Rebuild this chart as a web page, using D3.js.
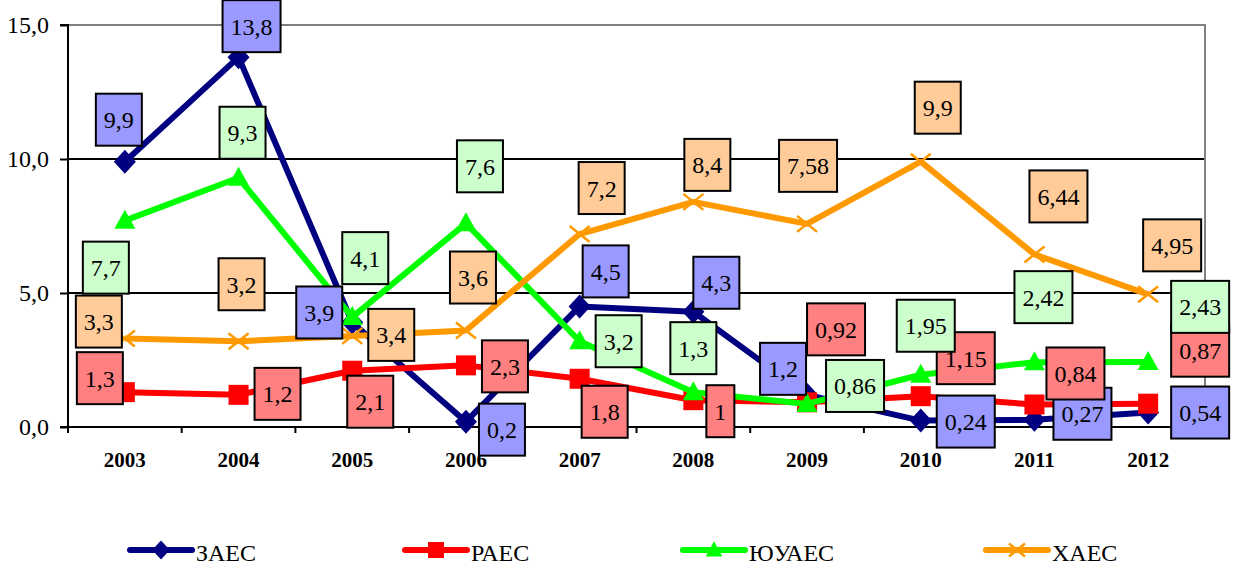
<!DOCTYPE html>
<html><head><meta charset="utf-8">
<script src="https://cdn.jsdelivr.net/npm/d3@7"></script>
<style>body{margin:0;background:#fff}svg{display:block}</style>
</head><body>
<svg id="c" width="1233" height="567"></svg>
<script>
const years = ["2003","2004","2005","2006","2007","2008","2009","2010","2011","2012"];
const seriesNames = ["ЗАЕС","РАЕС","ЮУАЕС","ХАЕС"];
const zaes  = [9.9, 13.8, 3.9, 0.2, 4.5, 4.3, 1.2, 0.24, 0.27, 0.54];
const raes  = [1.3, 1.2, 2.1, 2.3, 1.8, 1, 0.92, 1.15, 0.84, 0.87];
const yuaes = [7.7, 9.3, 4.1, 7.6, 3.2, 1.3, 0.86, 1.95, 2.42, 2.43];
const haes  = [3.3, 3.2, 3.4, 3.6, 7.2, 8.4, 7.58, 9.9, 6.44, 4.95];
const yTicks = [0, 5, 10, 15];

// label offsets (px) relative to their point
const offZ = [[-6,-42],[13,-31],[-33,-10],[36,8],[26,-35],[23,-29],[-24,-26],[45,1],[48,-6],[52,0]];
const offR = [[-25,-14],[39,-1],[18,31],[39,1],[25,33],[27,11],[29,-73],[45,-38],[41,-31],[52,-53]];
const offY = [[-19,47],[4,-45],[13,-59],[14,-57],[39,0],[0,-44],[48,-18],[5,-49],[9,-65],[52,-55]];
const offH = [[-26,-17],[3,-57],[39,-1],[7,-53],[22,-46],[14,-37],[1,-58],[17,-54],[24,-58],[24,-49]];

const series = [
  {name: seriesNames[0], values: zaes,  color:"#000080", fill:"#9999FF", marker:"diamond", off: offZ},
  {name: seriesNames[1], values: raes,  color:"#FF0000", fill:"#FF8080", marker:"square", off: offR},
  {name: seriesNames[2], values: yuaes, color:"#00FF00", fill:"#CCFFCC", marker:"triangle", off: offY},
  {name: seriesNames[3], values: haes,  color:"#FF9900", fill:"#FFCC99", marker:"x", off: offH}
];

const FONT = "Liberation Serif";
const L = 68, R = 1205, T = 25, B = 427;
const svg = d3.select("#c").style("font-family", FONT);
const x = d3.scaleBand().domain(years).range([L, R]);
const y = d3.scaleLinear().domain([0, 15]).range([B, T]);
const cx = d => x(d) + x.bandwidth()/2;

// gridlines
svg.append("g").selectAll("line").data(yTicks.filter(t => t > 0 && t < 15)).join("line")
  .attr("x1", L).attr("x2", R).attr("y1", d => y(d)).attr("y2", d => y(d))
  .attr("stroke", "#000").attr("stroke-width", 2);
// border top/right gray
svg.append("path").attr("d", `M${L},${y(15)}H${R}V${B}`).attr("fill","none").attr("stroke","#808080").attr("stroke-width",2);

// Y axis
const yAxis = d3.axisLeft(y).tickValues(yTicks).tickSize(8).tickPadding(11)
  .tickFormat(d => d3.format(".1f")(d).replace(".", ","));
const gy = svg.append("g").attr("transform", `translate(${L},0)`).call(yAxis);
gy.attr("font-family", null).attr("font-size", null);
gy.select(".domain").attr("stroke","#000").attr("stroke-width",2).attr("d", `M-8,${T}H0V${B}H-8`);
gy.selectAll(".tick line").attr("stroke","#000").attr("stroke-width",2);
gy.selectAll(".tick text").style("font-size", "24px").style("font-family", FONT).attr("fill","#000");

// X axis
const gx = svg.append("g").attr("transform", `translate(0,${B})`);
gx.append("line").attr("x1", L).attr("x2", R).attr("stroke","#000").attr("stroke-width",2);
gx.selectAll("line.tk").data(d3.range(years.length + 1)).join("line").attr("class","tk")
  .attr("x1", i => L + i * x.step()).attr("x2", i => L + i * x.step())
  .attr("y1", 0).attr("y2", 6).attr("stroke","#000").attr("stroke-width",2);
gx.selectAll("text").data(years).join("text")
  .attr("x", d => cx(d)).attr("y", 40).attr("text-anchor","middle")
  .style("font-size", "21px").style("font-weight","bold").style("font-family", FONT).text(d => d);

function drawMarker(g, type, color, px, py, s) {
  if (type === "diamond") {
    g.append("path").attr("d", `M${px},${py-s*1.2}L${px+s*1.1},${py}L${px},${py+s*1.2}L${px-s*1.1},${py}Z`).attr("fill", color);
  } else if (type === "square") {
    g.append("rect").attr("x", px-s).attr("y", py-s).attr("width", s*2).attr("height", s*2).attr("fill", color);
  } else if (type === "triangle") {
    g.append("path").attr("d", `M${px},${py-s*1.1}L${px+s*1.05},${py+s*0.8}L${px-s*1.05},${py+s*0.8}Z`).attr("fill", color);
  } else {
    g.append("path").attr("d", `M${px-s},${py-s*0.8}L${px+s},${py+s*0.8}M${px-s},${py+s*0.8}L${px+s},${py-s*0.8}`)
      .attr("stroke", color).attr("stroke-width", 2.5).attr("fill","none");
  }
}

const line = d3.line().x((d,i) => cx(years[i])).y(d => y(d));
series.forEach(s => {
  const g = svg.append("g");
  g.append("path").attr("d", line(s.values)).attr("fill","none").attr("stroke", s.color)
    .attr("stroke-width", 6).attr("stroke-linejoin","round");
  s.values.forEach((v,i) => drawMarker(g, s.marker, s.color, cx(years[i]), y(v), 10));
});

// labels
series.forEach(s => {
  const g = svg.append("g");
  s.values.forEach((v,i) => {
    const px = cx(years[i]) + s.off[i][0], py = y(v) + s.off[i][1];
    const lg = g.append("g");
    const rect = lg.append("rect");
    const t = lg.append("text").attr("x", px).attr("y", py + 8.5).attr("text-anchor","middle")
      .style("font-size", "24px").style("font-family", FONT).attr("fill","#000").text(String(v).replace(".", ","));
    const w = t.node().getComputedTextLength() + 16, h = 52;
    rect.attr("x", px - w/2).attr("y", py - h/2).attr("width", w).attr("height", h)
      .attr("fill", s.fill).attr("stroke", "#000").attr("stroke-width", 2);
  });
});

// legend
const legX = [130, 405, 683, 986];
const legY = 550;
series.forEach((s,i) => {
  const g = svg.append("g");
  g.append("line").attr("x1", legX[i]).attr("x2", legX[i] + 62).attr("y1", legY).attr("y2", legY)
    .attr("stroke", s.color).attr("stroke-width", 6).attr("stroke-linecap","round");
  drawMarker(g, s.marker, s.color, legX[i] + 31, legY, 8);
  g.append("text").attr("x", legX[i] + 66).attr("y", legY + 11).style("font-size", "24px").style("font-family", FONT)
    .attr("fill","#000").text(s.name);
});
</script>
</body></html>
